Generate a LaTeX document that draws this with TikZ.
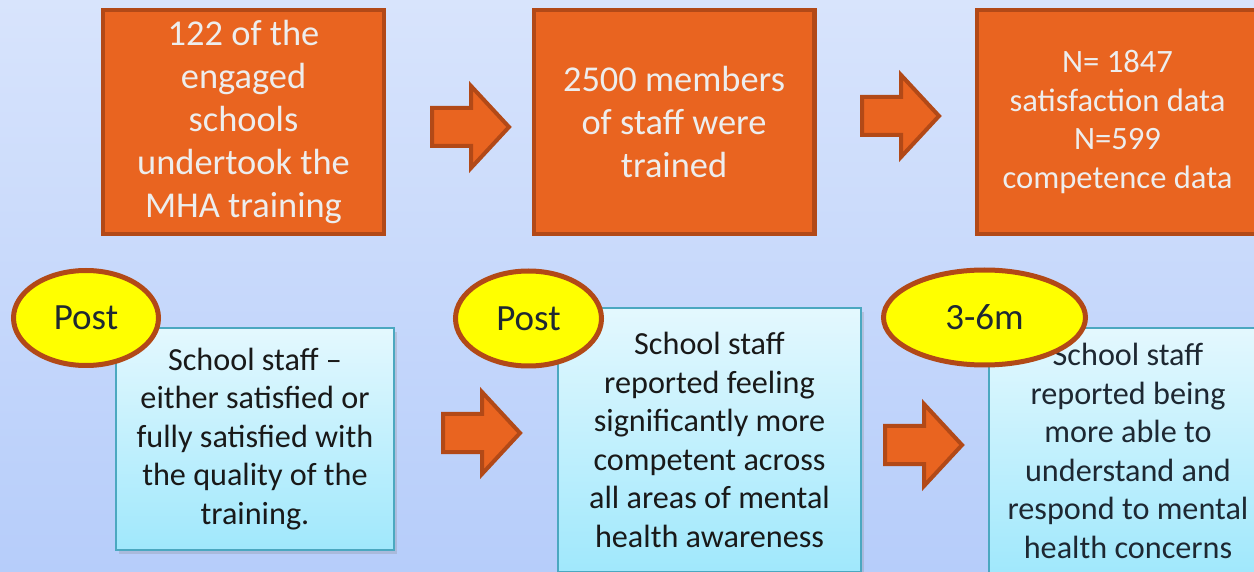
\documentclass[tikz,border=0pt]{standalone}
\usepackage{fontspec}
\setmainfont{Carlito}
\usetikzlibrary{shapes.geometric,shadows}

\definecolor{bgtop}{RGB}{216,228,252}
\definecolor{bgbot}{RGB}{182,205,250}
\definecolor{boxorange}{RGB}{233,100,32}
\definecolor{rimorange}{RGB}{178,73,23}
\definecolor{tagyellow}{RGB}{255,255,0}
\definecolor{cardtop}{RGB}{228,248,254}
\definecolor{cardbot}{RGB}{160,232,252}
\definecolor{cardrim}{RGB}{75,168,192}
\definecolor{ink}{RGB}{30,40,50}

\tikzset{
  stagebox/.style={draw=rimorange, fill=boxorange, line width=2.2pt, minimum width=140.3pt, minimum height=111.8pt,
    text=white!93!black, align=center, font=\fontsize{18.2}{21.5}\selectfont},
  resultbox/.style={draw=cardrim, line width=0.8pt, top color=cardtop, bottom color=cardbot,
    drop shadow={opacity=0.25, shadow xshift=1.5pt, shadow yshift=-2pt}, align=center, text=black!90,
    font=\fontsize{16.1}{19.25}\selectfont},
  timetag/.style={ellipse, draw=rimorange, fill=tagyellow, line width=2.5pt, inner sep=0pt, minimum height=47.5pt,
    text=ink, font=\fontsize{18.5}{22}\selectfont},
  % block arrow, drawn from the middle of its back end
  flowarrow/.pic={
    \draw[rimorange, fill=boxorange, line width=2pt]
      (0,-19) -- (39,-19) -- (39,-41) -- (77,0) -- (39,41) -- (39,19) -- (0,19) -- cycle;
  },
}

\begin{document}
\begin{tikzpicture}[x=0.5pt,y=-0.5pt]
    \useasboundingbox (0,0) rectangle (1254,572);
    \clip (0,0) rectangle (1254,572);
    \shade[top color=bgtop, bottom color=bgbot] (0,0) rectangle (1254,572);

    % top row
    \node[stagebox] (schools) at (243.5,122) {122 of the\\engaged\\schools\\undertook the\\MHA training};
    \node[stagebox] (staff) at (674,122) {2500 members\\of staff were\\trained};
    \node[stagebox, font=\fontsize{16.3}{19.3}\selectfont] (sample) at (1117.5,122) {N= 1847\\satisfaction data\\N=599\\competence data};
    \pic (arrA) at (432,127) {flowarrow};
    \pic (arrB) at (862,116) {flowarrow};

    % bottom row
    \node[resultbox, minimum width=139.2pt, minimum height=111.2pt] (satisfied) at (255,439)
        {School staff --\\either satisfied or\\fully satisfied with\\the quality of the\\training.};
    \node[resultbox, minimum width=151.7pt, minimum height=132.2pt] (competent) at (709.5,440)
        {School staff\\reported feeling\\significantly more\\competent across\\all areas  of mental\\health awareness};
    \node[resultbox, minimum width=139.2pt, minimum height=123.2pt, text=ink] (able) at (1128,451)
        {School staff\\reported being\\more able to\\understand and\\respond to mental\\health concerns};
    \pic (arrC) at (443,433) {flowarrow};
    \pic (arrD) at (885,445) {flowarrow};

    \node[timetag, minimum width=72.5pt] (postA) at (86,318) {Post};
    \node[timetag, minimum width=73pt] (postB) at (528.5,318.5) {Post};
    \node[timetag, minimum width=101pt] (later) at (984.5,317.5) {3-6m};
\end{tikzpicture}
\end{document}
